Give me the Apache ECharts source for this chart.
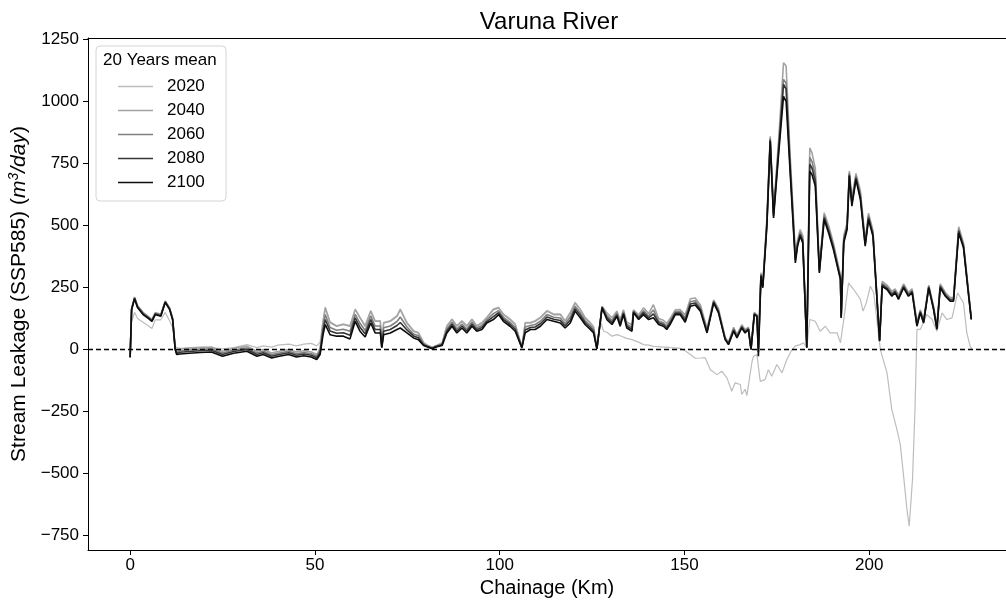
<!DOCTYPE html>
<html><head><meta charset="utf-8">
<script src="https://cdn.jsdelivr.net/npm/echarts@6/dist/echarts.min.js"></script>
<style>html,body{margin:0;padding:0;background:#fff}#c{width:1006px;height:607px}</style>
</head><body><div id="c"></div>
<script>
// Chainage (km) shared by the 2040-2100 series
const chainage = [
  0,0.4,1.2,2.0,3.5,5.0,5.9,6.8,8.3,9.5,10.7,11.5,12.2,12.6,
  13.5,16,19,22,25,28,31.6,34.3,36,38.3,40,42.9,45,47,49,50.5,51.4,52.2,
  52.8,54.1,55.9,57.7,59.5,60.9,62.2,63.6,65.1,66.3,67.7,68.1,68.6,70.4,72.2,73.1,74.9,76.7,78.0,79.4,80.3,81.7,83.0,84.4,
  85.7,87.1,88.4,89.8,91.1,92.5,93.8,95.2,96.5,98.3,99.7,101.0,102.8,104.2,106.0,106.9,108.3,109.6,111.0,112.8,114.6,116.4,117.7,119.1,120.4,121.8,123.1,124.5,125.4,126.3,
  127.7,129.0,130.4,131.7,132.6,133.5,134.4,135.8,136.2,137.6,138.9,140.3,141.6,143.0,144.3,145.2,146.1,147.5,148.8,150.2,151.6,152.9,154.3,156.1,157.9,159.2,161.0,161.9,163.3,164.2,165.5,166.4,167.3,168.0,168.9,169.6,
  170.0,170.7,171.2,172.3,173.2,174.1,175.5,176.8,177.5,178.6,180.0,180.6,181.3,182.0,183.1,183.9,184.5,185.4,186.5,187.8,189.0,190.3,192.2,192.4,193.1,194.0,194.6,195.3,196.4,197.6,198.9,199.8,201.0,202.8,
  203.5,204.8,206.1,207.0,207.9,209.3,210.6,211.6,212.9,213.8,214.7,216.1,217.4,218.3,219.2,220.6,221.9,222.8,224.2,225.5,226.9,227.6
];
const leak2040 = [
  -28,168,212,178,150,133,122,149,142,196,168,126,5,-8,
  2,5,8,10,-7,5,13,-7,0,-14,-8,0,-10,-5,-10,-20,5,110,
  168,109,94,101,94,161,128,94,155,114,114,12,107,114,134,161,107,74,67,27,18,8,16,25,
  94,121,94,114,94,121,94,107,128,161,168,141,121,101,10,107,107,114,128,155,141,141,114,148,188,161,128,107,90,5,
  175,148,128,155,120,160,110,100,160,140,168,145,181,125,118,105,125,160,161,140,205,208,180,85,200,165,50,30,90,60,100,80,90,5,150,140,
  20,310,265,530,860,560,850,1156,1143,780,390,440,484,460,10,813,793,730,330,551,500,430,300,130,460,510,720,610,710,640,440,550,480,40,
  275,260,235,245,220,265,230,245,110,160,120,260,175,95,265,230,210,210,495,430,230,130
];
const leak2060 = [
  -30,165,209,175,147,130,119,146,139,194,165,124,3,-12,
  -5,-2,1,3,-14,-2,6,-14,-7,-21,-15,-7,-17,-12,-17,-27,-5,90,
  141,89,78,82,74,142,106,77,136,95,95,10,88,95,113,131,91,63,56,23,15,6,14,21,
  83,110,83,103,83,110,86,97,120,145,157,130,110,90,9,91,97,101,114,141,130,127,103,132,175,148,117,97,81,4,
  172,137,117,147,110,152,101,90,155,132,157,135,160,115,108,95,115,152,153,128,193,197,170,78,195,158,46,26,84,55,95,75,86,3,146,138,
  5,304,259,517,852,548,827,1089,1075,753,374,431,473,448,9,775,758,702,322,540,488,419,293,129,448,500,712,597,700,626,431,540,471,38,
  267,253,227,239,213,259,224,239,104,155,115,256,169,89,259,224,204,204,485,422,224,126
];
const leak2080 = [
  -31,162,207,172,144,127,116,143,136,192,163,122,1,-16,
  -11,-8,-5,-3,-20,-8,0,-20,-13,-27,-21,-13,-23,-18,-23,-33,-12,75,
  121,75,66,68,58,128,90,64,121,81,81,9,74,81,97,109,79,55,48,19,13,5,13,19,
  75,102,75,95,75,102,80,89,113,133,149,122,102,82,8,79,89,91,104,131,122,117,95,119,165,138,109,89,74,4,
  170,129,109,140,102,147,94,82,152,127,149,128,144,108,101,88,108,147,147,119,184,188,162,72,192,153,43,23,79,51,91,71,83,2,144,136,
  -10,300,254,507,846,540,810,1069,1050,732,361,424,465,439,8,747,732,680,315,532,479,411,287,129,439,492,705,588,692,615,424,532,464,36,
  261,247,221,234,207,254,219,234,99,152,111,252,165,85,254,219,200,200,478,416,219,124
];
const leak2100 = [
  -32,160,205,170,141,125,114,141,134,190,161,120,0,-20,
  -18,-15,-12,-10,-27,-15,-7,-27,-20,-34,-28,-20,-30,-25,-30,-40,-20,60,
  101,60,54,54,43,114,74,51,107,67,67,8,60,67,81,87,67,47,40,16,11,3,11,16,
  67,94,67,87,67,94,74,81,107,121,141,114,94,74,7,67,81,81,94,121,114,107,87,107,155,128,101,81,67,3,
  168,121,101,134,94,141,87,74,148,121,141,121,128,101,94,81,101,141,141,110,175,180,155,67,188,148,40,20,74,47,87,67,80,0,141,134,
  -27,295,249,497,840,531,793,1021,1001,712,349,417,457,430,7,719,706,659,309,524,470,403,282,128,430,484,699,578,685,605,417,524,457,34,
  255,242,215,229,202,249,215,229,94,148,107,249,161,81,249,215,195,195,470,410,215,121
];
// 2020: first 86 points share the chainage above, then its own chainage
const head2020 = [
  -10,110,150,125,110,95,85,120,120,150,115,90,10,5,
  5,8,10,8,3,8,20,8,15,10,18,22,15,22,25,15,30,120,
  172,112,97,104,97,164,131,97,158,117,117,14,110,117,137,164,110,77,70,30,20,10,18,28,
  97,124,97,117,97,124,97,110,131,164,171,144,124,104,12,110,110,117,131,158,144,144,117,151,191,164,131,110,93,8
];
const tailKm2020 = [
  127.2,128.1,129.0,130.4,131.7,132.6,133.5,134.4,135.8,136.2,137.6,138.9,140.3,141.6,143.0,144.3,145.2,146.1,147.5,148.8,150.2,151.6,152.9,154.3,155.6,157.0,158.8,160.1,161.5,162.8,163.7,165.1,165.5,166.4,166.9,167.8,168.3,168.7,169.6,
  170.5,171.8,172.7,173.6,175.0,176.4,177.7,179.1,180.0,181.3,182.2,183.1,183.9,185.4,186.7,188.1,189.4,191.3,192.2,193.1,194.4,195.8,197.6,198.3,199.2,200.3,201.2,203.0,
  204.8,206.1,207.5,208.4,209.3,210.2,210.8,211.7,212.4,212.9,213.8,215.6,217.0,218.3,219.7,221.0,222.4,223.9,225.5,226.4,227.3,227.8
];
const tail2020 = [
  120,74,70,54,60,56,50,45,40,44,30,20,18,13,12,10,10,8,7,5,-5,-20,-35,-34,-33,-81,-101,-87,-114,-168,-134,-141,-181,-160,-185,-94,-47,-27,-20,
  -128,-121,-81,-108,-60,-94,-40,0,15,20,27,7,121,114,74,94,67,67,27,121,269,242,202,155,188,255,229,0,
  -94,-242,-323,-383,-511,-645,-712,-524,-228,81,81,141,121,74,148,121,128,229,188,67,13,3
];
const years = ['2020','2040','2060','2080','2100'];
const xTicks = [0,50,100,150,200];
const yTicks = [-750,-500,-250,0,250,500,750,1000,1250];

const km2020 = chainage.slice(0, head2020.length).concat(tailKm2020);
const vals2020 = head2020.concat(tail2020);
const pair = (xs, ys) => xs.map((x, i) => [x, ys[i]]);
const seriesData = [pair(km2020, vals2020), pair(chainage, leak2040), pair(chainage, leak2060), pair(chainage, leak2080), pair(chainage, leak2100)];
const colors = ['#bdbdbd', '#a3a3a3', '#808080', '#363636', '#0d0d0d'];
const widths = [1.2, 1.6, 1.6, 1.6, 1.6];
const FONT = '"Liberation Sans", Arial, sans-serif';
const X_MIN = -11.4, X_MAX = 237.0;

const chart = echarts.init(document.getElementById('c'), null, {renderer: 'canvas'});
const series = years.map((y, i) => ({
  name: y, type: 'line', data: seriesData[i], symbol: 'none', showSymbol: false,
  lineStyle: {color: colors[i], width: widths[i]}, itemStyle: {color: colors[i]},
  z: 2 + i, animation: false
}));
series[4].markLine = {
  silent: true, symbol: ['none', 'none'], label: {show: false},
  lineStyle: {type: [5, 3], color: '#000', width: 1.3},
  data: [{yAxis: 0}], animation: false
};

chart.setOption({
  animation: false,
  backgroundColor: '#fff',
  grid: {left: 88, top: 38, bottom: 57, right: 0, show: false, containLabel: false, outerBoundsMode: 'none'},
  xAxis: [{
    type: 'value', min: X_MIN, max: X_MAX,
    splitLine: {show: false},
    axisLine: {show: true, onZero: false, lineStyle: {color: '#000', width: 1}},
    axisTick: {show: true, customValues: xTicks, length: 5, lineStyle: {color: '#000'}},
    axisLabel: {customValues: xTicks, fontSize: 17, color: '#000', margin: 7, fontFamily: FONT},
    name: 'Chainage (Km)', nameLocation: 'middle', nameGap: 22,
    nameTextStyle: {fontSize: 20, color: '#000', fontFamily: FONT}
  }, {
    type: 'value', position: 'top', min: X_MIN, max: X_MAX,
    splitLine: {show: false}, axisTick: {show: false}, axisLabel: {show: false},
    axisLine: {show: true, onZero: false, lineStyle: {color: '#000', width: 1}}
  }],
  yAxis: {
    type: 'value', min: -808, max: 1256,
    splitLine: {show: false},
    axisLine: {show: true, onZero: false, lineStyle: {color: '#000', width: 1}},
    axisTick: {show: true, customValues: yTicks, length: 5, lineStyle: {color: '#000'}},
    axisLabel: {customValues: yTicks, fontSize: 17, color: '#000', margin: 9, fontFamily: FONT,
      formatter: v => String(v).replace('-', '\u2212')},
    name: '{a|Stream Leakage (SSP585) (}{b|m}{c|3}{b|/day}{a|)}',
    nameLocation: 'middle', nameRotate: 90, nameGap: 52,
    nameTextStyle: {
      color: '#000', fontFamily: FONT, fontSize: 21,
      rich: {
        a: {fontSize: 21, color: '#000', fontFamily: FONT},
        b: {fontSize: 21, color: '#000', fontFamily: FONT, fontStyle: 'italic'},
        c: {fontSize: 14, color: '#000', fontFamily: FONT, fontStyle: 'italic', padding: [0, 0, 11, 0]}
      }
    }
  },
  legend: {
    data: years, orient: 'vertical', left: 113, top: 73,
    icon: 'rect', itemWidth: 35, itemHeight: 1.6, itemGap: 7,
    textStyle: {fontSize: 17, color: '#000', fontFamily: FONT, padding: [0, 0, 0, 9], lineHeight: 17},
    selectedMode: false, z: 10
  },
  graphic: [
    {type: 'rect', z: 5, shape: {x: 96, y: 46, width: 130, height: 155, r: 4},
      style: {fill: 'rgba(255,255,255,0.85)', stroke: '#d4d4d4', lineWidth: 1}},
    {type: 'text', z: 6, x: 103, y: 60,
      style: {text: '20 Years mean', fontSize: 17, fontFamily: FONT, fill: '#000',
        textAlign: 'left', textVerticalAlign: 'middle', align: 'left', verticalAlign: 'middle'}},
    {type: 'text', z: 6, x: 549, y: 22,
      style: {text: 'Varuna River', fontSize: 24, fontFamily: FONT, fill: '#000',
        textAlign: 'center', textVerticalAlign: 'middle', align: 'center', verticalAlign: 'middle'}}
  ],
  series: series
});
</script></body></html>
